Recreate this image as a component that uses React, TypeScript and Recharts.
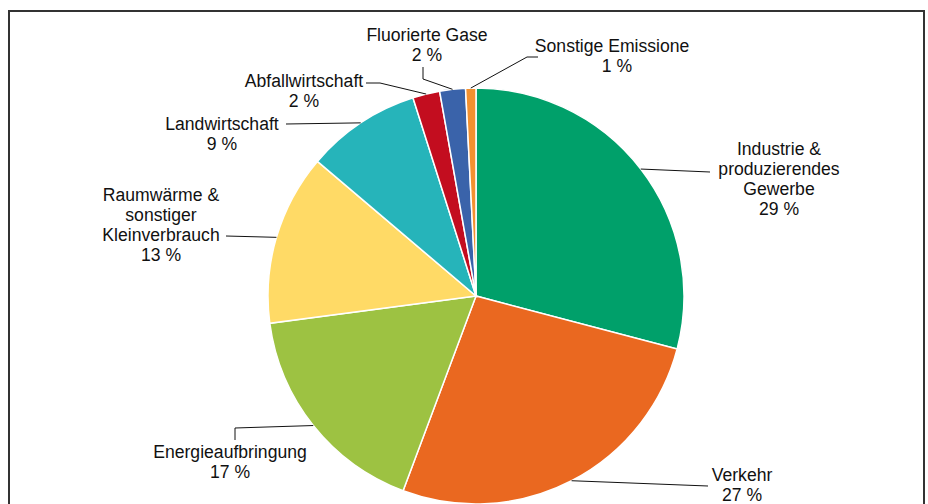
import React from 'react';
import { PieChart, Pie, Cell } from 'recharts';

const sectors = [
  'Industrie & produzierendes Gewerbe',
  'Verkehr',
  'Energieaufbringung',
  'Raumwärme & sonstiger Kleinverbrauch',
  'Landwirtschaft',
  'Abfallwirtschaft',
  'Fluorierte Gase',
  'Sonstige Emissionen',
];
const shares = [29.1, 26.6, 17.2, 13.3, 8.9, 2.1, 2.0, 0.8];
// how each label is wrapped over lines
const labelLines = [
  ['Industrie &', 'produzierendes', 'Gewerbe'],
  ['Verkehr'],
  ['Energieaufbringung'],
  ['Raumwärme &', 'sonstiger', 'Kleinverbrauch'],
  ['Landwirtschaft'],
  ['Abfallwirtschaft'],
  ['Fluorierte Gase'],
  ['Sonstige Emissionen'],
];
const colors = ['#00A06A', '#EA6820', '#9DC242', '#FFDA66', '#26B4BA', '#C30D1F', '#3A63AA', '#F39130'];

const data = sectors.map((name, i) => ({ name, value: shares[i] }));

// leader line points and text anchor, relative to pie centre
const labelLayout = [
  { pts: [[234, -124]], tx: 303, ty: -141 },
  { pts: [[232, 190]], tx: 266, ty: 185 },
  { pts: [[-241, 132], [-241, 144]], tx: -246, ty: 162 },
  { pts: [[-250, -60]], tx: -315, ty: -95 },
  { pts: [[-190, -172]], tx: -254, ty: -166 },
  { pts: [[-96, -213], [-110, -213]], tx: -172, ty: -209 },
  { pts: [[-53, -217], [-53, -229]], tx: -49, ty: -255 },
  { pts: [[51, -239], [62, -239]], tx: 141, ty: -244, clip: 214 },
];

const RAD = Math.PI / 180;
const FONT = 'Liberation Sans, Arial, sans-serif';

const renderLabel = (props: any) => {
  const { cx, cy, midAngle, outerRadius, index, value } = props;
  const lay = labelLayout[index];
  const sx = cx + outerRadius * Math.cos(-midAngle * RAD);
  const sy = cy + outerRadius * Math.sin(-midAngle * RAD);
  const points = [[sx, sy], ...lay.pts.map(([x, y]) => [cx + x, cy + y])]
    .map((p) => p.join(','))
    .join(' ');
  const lines = [...labelLines[index], `${Math.round(value)} %`];
  const clipId = `clip-${index}`;
  return (
    <g key={`lbl-${index}`}>
      {lay.clip !== undefined && (
        <defs>
          <clipPath id={clipId}>
            <rect x={0} y={0} width={cx + lay.clip} height={1000} />
          </clipPath>
        </defs>
      )}
      <polyline points={points} fill="none" stroke="#111" strokeWidth={1} />
      <text
        x={cx + lay.tx}
        y={cy + lay.ty}
        textAnchor="middle"
        fontFamily={FONT}
        fontSize={17.6}
        fill="#111"
        clipPath={lay.clip !== undefined ? `url(#${clipId})` : undefined}
      >
        {lines.map((l, i) => (
          <tspan key={i} x={cx + lay.tx} dy={i === 0 ? 0 : 20}>
            {l}
          </tspan>
        ))}
      </text>
    </g>
  );
};

export default function App() {
  return (
    <div style={{ position: 'absolute', left: 0, top: 0, width: 928, height: 504, overflow: 'hidden', background: '#fff' }}>
      <div
        style={{
          position: 'absolute',
          left: 8,
          top: 10,
          width: 913,
          height: 520,
          border: '2px solid #333',
        }}
      />
      <div style={{ position: 'absolute', left: 0, top: 0 }}>
        <PieChart width={928} height={504} margin={{ top: 0, right: 0, bottom: 0, left: 0 }}>
          <Pie
            data={data}
            dataKey="value"
            nameKey="name"
            cx={476}
            cy={296}
            outerRadius={208}
            startAngle={90}
            endAngle={-270}
            stroke="#fff"
            strokeWidth={1.5}
            label={renderLabel}
            labelLine={false}
            isAnimationActive={false}
          >
            {data.map((d, i) => (
              <Cell key={d.name} fill={colors[i]} />
            ))}
          </Pie>
        </PieChart>
      </div>
    </div>
  );
}
